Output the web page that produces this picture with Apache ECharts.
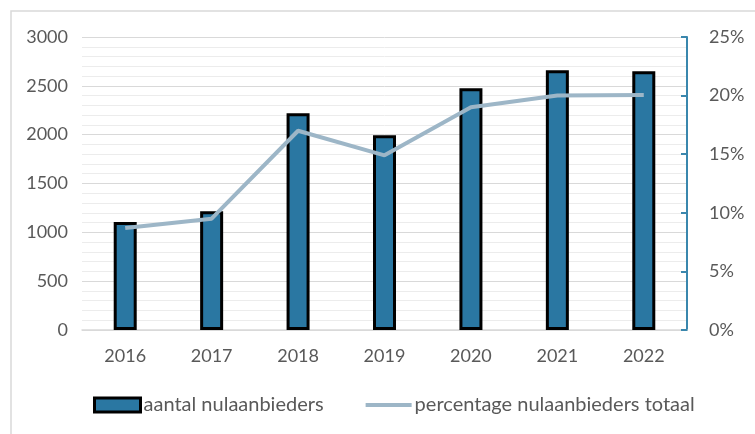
<!DOCTYPE html>
<html><head><meta charset="utf-8">
<script src="https://cdn.jsdelivr.net/npm/echarts@6/dist/echarts.min.js"></script>
<style>html,body{margin:0;padding:0;background:#fff}#c{width:755px;height:434px}</style>
</head><body><div id="c"></div>
<script>
const categories = ['2016','2017','2018','2019','2020','2021','2022'];
const aantal = [1105, 1215, 2220, 1995, 2475, 2660, 2650];
const percentage = [8.7, 9.5, 17.0, 14.9, 19.0, 20.0, 20.05];
const leftTicks = [0, 500, 1000, 1500, 2000, 2500, 3000];
const rightTicks = [0, 5, 10, 15, 20, 25];

const chart = echarts.init(document.getElementById('c'));
const font = 'Lato, "Open Sans", sans-serif';
chart.setOption({
  animation: false,
  textStyle: {fontFamily: font},
  graphic: [{type:'rect', shape:{x:11, y:11, width:800, height:500}, style:{fill:'none', stroke:'#d9d9d9', lineWidth:1.5}, silent:true}],
  grid: {left: 82, right: 68, top: 37, bottom: 104},
  legend: {
    bottom: 14, left: 88, itemGap: 42, itemWidth: 46, itemHeight: 14,
    textStyle: {fontSize: 20, color: '#595959', fontFamily: font, padding: [0,0,0,-2]},
    data: [
      {name: 'aantal nulaanbieders', icon: 'rect', itemStyle:{color:'#2a77a2', borderColor:'#000', borderWidth:3}},
      {name: 'percentage nulaanbieders totaal', icon: 'path://M0,0 L44,0 L44,4 L0,4 Z', itemStyle:{color:'#9db6c7'}}
    ]
  },
  xAxis: {
    type: 'category', data: categories,
    axisLine: {lineStyle: {color: '#d9d9d9', width: 1.5}},
    axisTick: {show: false},
    axisLabel: {fontSize: 18, color: '#595959', margin: 17}
  },
  yAxis: [{
    type: 'value', min: leftTicks[0], max: leftTicks[leftTicks.length-1], interval: 500,
    axisLine: {show: false}, axisTick: {show: false},
    axisLabel: {fontSize: 18, color: '#595959', margin: 14, formatter: v => String(v)},
    splitLine: {lineStyle: {color: '#d9d9d9', width: 1}},
    minorTick: {show: false, splitNumber: 5},
    minorSplitLine: {show: true, lineStyle: {color: '#ececec', width: 1}}
  }, {
    type: 'value', min: rightTicks[0], max: rightTicks[rightTicks.length-1], interval: 5,
    position: 'right',
    axisLine: {show: true, lineStyle: {color: '#3a87ad', width: 2}},
    axisTick: {show: true, inside: true, length: 6, lineStyle: {color: '#3a87ad', width: 2}},
    axisLabel: {fontSize: 18, color: '#595959', margin: 22, formatter: v => v + '%'},
    splitLine: {show: false}
  }],
  series: [{
    name: 'aantal nulaanbieders', type: 'bar', data: aantal, barWidth: 23,
    itemStyle: {color: '#2a77a2', borderColor: '#000', borderWidth: 3}
  }, {
    name: 'percentage nulaanbieders totaal', type: 'line', yAxisIndex: 1, data: percentage,
    symbol: 'none', lineStyle: {color: '#9db6c7', width: 4}, itemStyle: {color: '#9db6c7'}
  }]
});
</script></body></html>
